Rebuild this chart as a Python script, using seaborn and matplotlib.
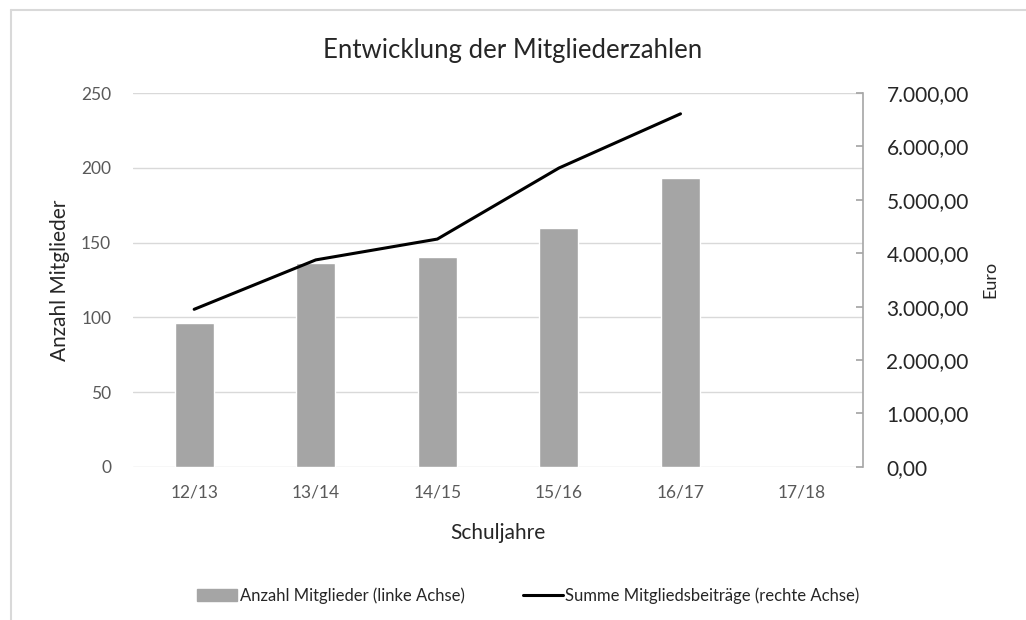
import numpy as np
import matplotlib
matplotlib.use('Agg')
import matplotlib.pyplot as plt
import seaborn as sns
from matplotlib.patches import Patch
from matplotlib.lines import Line2D
from matplotlib.ticker import FuncFormatter, MultipleLocator

# Daten
schuljahre = ['12/13', '13/14', '14/15', '15/16', '16/17', '17/18']
bar_jahre = ['12/13', '13/14', '14/15', '15/16', '16/17']
mitglieder = [96, 136, 140, 160, 193]
beitraege = [2950, 3875, 4265, 5595, 6610]

sns.set_theme(style='white')
plt.rcParams['font.family'] = ['Lato', 'DejaVu Sans']

text_grey = '#595959'
grid_grey = '#d9d9d9'

fig = plt.figure(figsize=(10.26, 6.2), dpi=100)
ax = fig.add_axes([0.13, 0.247, 0.711, 0.603])

# Balken (linke Achse)
sns.barplot(x=bar_jahre, y=mitglieder, order=schuljahre, color='#a5a5a5',
            width=0.32, saturation=1, ax=ax)
ax.set_xlim(-0.5, len(schuljahre) - 0.5)
ax.set_ylim(0, 250)
ax.yaxis.set_major_locator(MultipleLocator(50))
ax.grid(axis='y', color=grid_grey, linewidth=1)
ax.set_axisbelow(True)
for s in ax.spines.values():
    s.set_visible(False)
ax.tick_params(axis='both', length=0, colors=text_grey, labelsize=12.5)
ax.tick_params(axis='x', pad=13)
ax.tick_params(axis='y', pad=16)
ax.set_xlabel('Schuljahre', fontsize=15, color='#262626', labelpad=16)
ax.set_ylabel('Anzahl Mitglieder', fontsize=15, color='#262626', labelpad=8)

# Linie (rechte Achse)
ax2 = ax.twinx()
sns.lineplot(x=np.arange(len(beitraege)), y=beitraege, color='black',
             linewidth=2.2, ax=ax2)
ax2.set_ylim(0, 7000)
ax2.yaxis.set_major_locator(MultipleLocator(1000))
ax2.yaxis.set_major_formatter(FuncFormatter(
    lambda v, p: f'{v:,.2f}'.replace(',', 'X').replace('.', ',').replace('X', '.')))
for k, s in ax2.spines.items():
    s.set_visible(k == 'right')
ax2.spines['right'].set_color('#a6a6a6')
ax2.spines['right'].set_linewidth(1.2)
ax2.tick_params(axis='y', direction='in', length=5, color='#a6a6a6',
                labelcolor='#262626', labelsize=15, pad=17)
ax2.set_ylabel('Euro', fontsize=13, color='#262626', labelpad=10)
ax2.grid(False)

fig.suptitle('Entwicklung der Mitgliederzahlen', fontsize=18.5, color='#262626',
             y=0.938)

handles = [Patch(color='#a5a5a5', label='Anzahl Mitglieder (linke Achse)'),
           Line2D([0], [0], color='black', lw=2.2,
                  label='Summe Mitgliedsbeiträge (rechte Achse)')]
fig.legend(handles=handles, loc='center', bbox_to_anchor=(0.515, 0.039), ncol=2,
           frameon=False, fontsize=12, columnspacing=3.5, handlelength=2.4,
           handletextpad=0.15)

# Rahmen oben und links
fig.add_artist(Line2D([11 / 1026, 1], [1 - 10 / 620, 1 - 10 / 620],
                      color='#d9d9d9', lw=1.5, transform=fig.transFigure))
fig.add_artist(Line2D([11 / 1026, 11 / 1026], [0, 1 - 10 / 620],
                      color='#d9d9d9', lw=1.5, transform=fig.transFigure))

fig.savefig('out.png', dpi=100, facecolor='white')
